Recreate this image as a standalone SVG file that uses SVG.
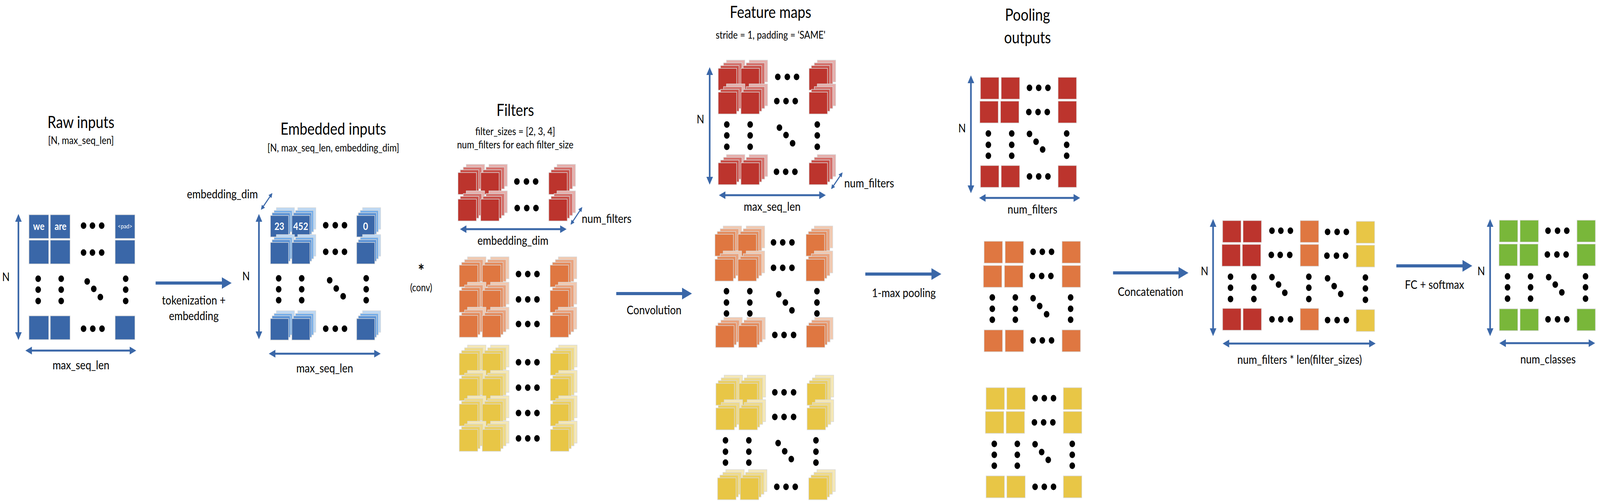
<svg xmlns="http://www.w3.org/2000/svg" xmlns:xlink="http://www.w3.org/1999/xlink" width="4863" height="1291" viewBox="0 0 4863 1291" preserveAspectRatio="none">
<style>
svg{width:100vw;height:100vh}
text{font-family:Lato,"Liberation Sans",sans-serif;fill:#000;text-anchor:middle}
.t{font-size:42px}
.s{font-size:27px}
.l{font-size:31px}
.n{font-size:30px}
.w{fill:#fff;font-weight:700;font-size:26px}
.c{stroke:#d9d9d9;stroke-width:1.5}
.d{fill:#000}
.dim{stroke:#3a67a8;stroke-width:5;fill:none;marker-start:url(#ah);marker-end:url(#ah)}
.sm{stroke:#3a67a8;stroke-width:3;fill:none;marker-start:url(#sh);marker-end:url(#sh)}
.big{stroke:#3a67a8;stroke-width:8;fill:none;marker-end:url(#bh)}
.bl{fill:#3a67a8}.rd{fill:#bc342d}.or{fill:#df7741}.ye{fill:#e8c646}.gr{fill:#79b73a}
</style>
<defs>
<marker id="ah" viewBox="0 0 20 20" refX="2" refY="10" markerWidth="20" markerHeight="20" markerUnits="userSpaceOnUse" orient="auto-start-reverse"><path d="M0,0 L20,10 L0,20 z" fill="#3a67a8"/></marker>
<marker id="sh" viewBox="0 0 12 12" refX="1" refY="6" markerWidth="12" markerHeight="12" markerUnits="userSpaceOnUse" orient="auto-start-reverse"><path d="M0,0 L12,6 L0,12 z" fill="#3a67a8"/></marker>
<marker id="bh" viewBox="0 0 30 30" refX="2" refY="15" markerWidth="30" markerHeight="30" markerUnits="userSpaceOnUse" orient="auto"><path d="M0,0 L30,15 L0,30 z" fill="#3a67a8"/></marker>
<g id="sB"><rect class="c" x="18" y="-20" width="55" height="55" fill="#bcd8f4"/><rect class="c" x="11" y="-13" width="55" height="55" fill="#76aee9"/><rect class="c" x="5" y="-7" width="55" height="55" fill="#5b93d6"/><rect class="c" x="0" y="0" width="55" height="55" fill="#3a67a8"/></g>
<g id="sR"><rect class="c" x="25" y="-21" width="56" height="56" fill="#e6aeab"/><rect class="c" x="16" y="-14" width="56" height="56" fill="#d4706b"/><rect class="c" x="7" y="-7" width="56" height="56" fill="#c94d46"/><rect class="c" x="0" y="0" width="56" height="56" fill="#bc342d"/></g>
<g id="sO"><rect class="c" x="25" y="-21" width="56" height="56" fill="#f2c9b0"/><rect class="c" x="16" y="-14" width="56" height="56" fill="#eaa37e"/><rect class="c" x="7" y="-7" width="56" height="56" fill="#e48b5c"/><rect class="c" x="0" y="0" width="56" height="56" fill="#df7741"/></g>
<g id="sY"><rect class="c" x="25" y="-21" width="56" height="56" fill="#f5e8b6"/><rect class="c" x="16" y="-14" width="56" height="56" fill="#efda88"/><rect class="c" x="7" y="-7" width="56" height="56" fill="#ebcf62"/><rect class="c" x="0" y="0" width="56" height="56" fill="#e8c646"/></g>
</defs>
<rect width="4863" height="1291" fill="#fff"/>

<g id="raw-inputs">
<text class="t" x="246" y="328">Raw inputs</text>
<text class="s" x="246" y="369">[N, max_seq_len]</text>
<rect class="c bl" x="88" y="550" width="60" height="61"/><rect class="c bl" x="153" y="550" width="60" height="61"/><rect class="c bl" x="350" y="550" width="60" height="61"/>
<rect class="c bl" x="88" y="615" width="60" height="61"/><rect class="c bl" x="153" y="615" width="60" height="61"/><rect class="c bl" x="350" y="615" width="60" height="61"/>
<rect class="c bl" x="88" y="809" width="60" height="61"/><rect class="c bl" x="153" y="809" width="60" height="61"/><rect class="c bl" x="350" y="809" width="60" height="61"/>
<text class="w" x="118" y="589">we</text><text class="w" x="184" y="589">are</text><text x="380" y="585" style="fill:#fff;font-size:16px">&lt;pad&gt;</text>
<g class="d"><circle cx="254" cy="578" r="8.5"/><circle cx="281" cy="578" r="8.5"/><circle cx="309" cy="578" r="8.5"/>
<circle cx="254" cy="647" r="8.5"/><circle cx="281" cy="647" r="8.5"/><circle cx="309" cy="647" r="8.5"/>
<circle cx="116" cy="714" r="8.5"/><circle cx="116" cy="742" r="8.5"/><circle cx="116" cy="771" r="8.5"/>
<circle cx="186" cy="714" r="8.5"/><circle cx="186" cy="742" r="8.5"/><circle cx="186" cy="771" r="8.5"/>
<circle cx="382" cy="714" r="8.5"/><circle cx="382" cy="742" r="8.5"/><circle cx="382" cy="771" r="8.5"/>
<circle cx="265" cy="721" r="8.5"/><circle cx="285" cy="740" r="8.5"/><circle cx="305" cy="761" r="8.5"/>
<circle cx="254" cy="842" r="8.5"/><circle cx="282" cy="842" r="8.5"/><circle cx="310" cy="842" r="8.5"/></g>
<text class="n" x="18" y="720">N</text>
<text class="l" x="246" y="946">max_seq_len</text>
</g>

<g id="embedded-inputs">
<text class="t" x="1013" y="345">Embedded inputs</text>
<text class="s" x="1013" y="388">[N, max_seq_len, embedding_dim]</text>
<use xlink:href="#sB" x="822" y="552"/><use xlink:href="#sB" x="887" y="552"/><use xlink:href="#sB" x="1084" y="552"/>
<use xlink:href="#sB" x="822" y="621"/><use xlink:href="#sB" x="887" y="621"/><use xlink:href="#sB" x="1084" y="621"/>
<use xlink:href="#sB" x="822" y="816"/><use xlink:href="#sB" x="887" y="816"/><use xlink:href="#sB" x="1084" y="816"/>
<text class="w" x="849" y="589">23</text><text class="w" x="914" y="589">452</text><text class="w" x="1111" y="589">0</text>
<g class="d"><circle cx="990" cy="577" r="8.5"/><circle cx="1019" cy="577" r="8.5"/><circle cx="1047" cy="577" r="8.5"/>
<circle cx="990" cy="645" r="8.5"/><circle cx="1019" cy="645" r="8.5"/><circle cx="1047" cy="645" r="8.5"/>
<circle cx="847" cy="713" r="8.5"/><circle cx="847" cy="741" r="8.5"/><circle cx="847" cy="769" r="8.5"/>
<circle cx="917" cy="713" r="8.5"/><circle cx="917" cy="741" r="8.5"/><circle cx="917" cy="769" r="8.5"/>
<circle cx="1113" cy="713" r="8.5"/><circle cx="1113" cy="741" r="8.5"/><circle cx="1113" cy="769" r="8.5"/>
<circle cx="1002" cy="718" r="8.5"/><circle cx="1022" cy="739" r="8.5"/><circle cx="1043" cy="759" r="8.5"/>
<circle cx="990" cy="842" r="8.5"/><circle cx="1019" cy="842" r="8.5"/><circle cx="1047" cy="842" r="8.5"/></g>
<text class="n" x="748" y="718">N</text>
<text class="l" x="676" y="508">embedding_dim</text>
<text class="l" x="987" y="954">max_seq_len</text>
</g>

<g id="conv-op">
<text x="1280" y="710" style="font-size:46px;font-weight:700">*</text>
<text x="1280" y="746" style="font-size:26px">(conv)</text>
</g>

<g id="filters">
<text class="t" x="1566" y="297">Filters</text>
<text class="s" x="1566" y="346">filter_sizes = [2, 3, 4]</text>
<text class="s" x="1566" y="380">num_filters for each filter_size</text>
<use xlink:href="#sR" x="1392" y="442"/><use xlink:href="#sR" x="1461" y="442"/><use xlink:href="#sR" x="1668" y="442"/>
<use xlink:href="#sR" x="1392" y="510"/><use xlink:href="#sR" x="1461" y="510"/><use xlink:href="#sR" x="1668" y="510"/>
<use xlink:href="#sO" x="1396" y="679"/><use xlink:href="#sO" x="1466" y="679"/><use xlink:href="#sO" x="1672" y="679"/>
<use xlink:href="#sO" x="1396" y="744"/><use xlink:href="#sO" x="1466" y="744"/><use xlink:href="#sO" x="1672" y="744"/>
<use xlink:href="#sO" x="1396" y="808"/><use xlink:href="#sO" x="1466" y="808"/><use xlink:href="#sO" x="1672" y="808"/>
<use xlink:href="#sY" x="1396" y="905"/><use xlink:href="#sY" x="1466" y="905"/><use xlink:href="#sY" x="1673" y="905"/>
<use xlink:href="#sY" x="1396" y="970"/><use xlink:href="#sY" x="1466" y="970"/><use xlink:href="#sY" x="1673" y="970"/>
<use xlink:href="#sY" x="1396" y="1035"/><use xlink:href="#sY" x="1466" y="1035"/><use xlink:href="#sY" x="1673" y="1035"/>
<use xlink:href="#sY" x="1396" y="1100"/><use xlink:href="#sY" x="1466" y="1100"/><use xlink:href="#sY" x="1673" y="1100"/>
<g class="d"><circle cx="1571" cy="465" r="8.5"/><circle cx="1600" cy="465" r="8.5"/><circle cx="1628" cy="465" r="8.5"/>
<circle cx="1572" cy="533" r="8.5"/><circle cx="1601" cy="533" r="8.5"/><circle cx="1629" cy="533" r="8.5"/>
<circle cx="1576" cy="702" r="8.5"/><circle cx="1604" cy="702" r="8.5"/><circle cx="1632" cy="702" r="8.5"/>
<circle cx="1576" cy="767" r="8.5"/><circle cx="1604" cy="767" r="8.5"/><circle cx="1632" cy="767" r="8.5"/>
<circle cx="1576" cy="830" r="8.5"/><circle cx="1604" cy="830" r="8.5"/><circle cx="1632" cy="830" r="8.5"/>
<circle cx="1576" cy="928" r="8.5"/><circle cx="1604" cy="928" r="8.5"/><circle cx="1632" cy="928" r="8.5"/>
<circle cx="1576" cy="993" r="8.5"/><circle cx="1604" cy="993" r="8.5"/><circle cx="1632" cy="993" r="8.5"/>
<circle cx="1576" cy="1058" r="8.5"/><circle cx="1604" cy="1058" r="8.5"/><circle cx="1632" cy="1058" r="8.5"/>
<circle cx="1576" cy="1123" r="8.5"/><circle cx="1604" cy="1123" r="8.5"/><circle cx="1632" cy="1123" r="8.5"/></g>
<text class="l" x="1559" y="627">embedding_dim</text>
<text class="l" x="1768" y="571" style="text-anchor:start">num_filters</text>
</g>

<g id="feature-maps">
<text class="t" x="2342" y="46">Feature maps</text>
<text class="s" x="2342" y="99">stride = 1, padding = ‘SAME'</text>
<use xlink:href="#sR" x="2183" y="175"/><use xlink:href="#sR" x="2252" y="175"/><use xlink:href="#sR" x="2459" y="175"/>
<use xlink:href="#sR" x="2183" y="236"/><use xlink:href="#sR" x="2252" y="236"/><use xlink:href="#sR" x="2459" y="236"/>
<use xlink:href="#sR" x="2183" y="417"/><use xlink:href="#sR" x="2252" y="417"/><use xlink:href="#sR" x="2459" y="417"/>
<use xlink:href="#sO" x="2173" y="600"/><use xlink:href="#sO" x="2243" y="600"/><use xlink:href="#sO" x="2450" y="600"/>
<use xlink:href="#sO" x="2173" y="664"/><use xlink:href="#sO" x="2243" y="664"/><use xlink:href="#sO" x="2450" y="664"/>
<use xlink:href="#sO" x="2175" y="834"/><use xlink:href="#sO" x="2245" y="834"/><use xlink:href="#sO" x="2451" y="834"/>
<use xlink:href="#sY" x="2176" y="982"/><use xlink:href="#sY" x="2246" y="982"/><use xlink:href="#sY" x="2453" y="982"/>
<use xlink:href="#sY" x="2176" y="1045"/><use xlink:href="#sY" x="2246" y="1045"/><use xlink:href="#sY" x="2453" y="1045"/>
<use xlink:href="#sY" x="2181" y="1224"/><use xlink:href="#sY" x="2250" y="1224"/><use xlink:href="#sY" x="2458" y="1224"/>
<g class="d"><circle cx="2364" cy="197" r="8.5"/><circle cx="2393" cy="197" r="8.5"/><circle cx="2421" cy="197" r="8.5"/>
<circle cx="2361" cy="259" r="8.5"/><circle cx="2389" cy="259" r="8.5"/><circle cx="2417" cy="259" r="8.5"/>
<circle cx="2209" cy="319" r="8.5"/><circle cx="2209" cy="347" r="8.5"/><circle cx="2209" cy="376" r="8.5"/>
<circle cx="2280" cy="319" r="8.5"/><circle cx="2280" cy="347" r="8.5"/><circle cx="2280" cy="376" r="8.5"/>
<circle cx="2484" cy="319" r="8.5"/><circle cx="2484" cy="347" r="8.5"/><circle cx="2484" cy="376" r="8.5"/>
<circle cx="2369" cy="327" r="8.5"/><circle cx="2389" cy="346" r="8.5"/><circle cx="2409" cy="367" r="8.5"/>
<circle cx="2360" cy="440" r="8.5"/><circle cx="2388" cy="440" r="8.5"/><circle cx="2416" cy="440" r="8.5"/>
<circle cx="2351" cy="621" r="8.5"/><circle cx="2379" cy="621" r="8.5"/><circle cx="2407" cy="621" r="8.5"/>
<circle cx="2351" cy="686" r="8.5"/><circle cx="2379" cy="686" r="8.5"/><circle cx="2407" cy="686" r="8.5"/>
<circle cx="2208" cy="746" r="8.5"/><circle cx="2208" cy="775" r="8.5"/><circle cx="2208" cy="803" r="8.5"/>
<circle cx="2279" cy="746" r="8.5"/><circle cx="2279" cy="775" r="8.5"/><circle cx="2279" cy="803" r="8.5"/>
<circle cx="2483" cy="746" r="8.5"/><circle cx="2483" cy="775" r="8.5"/><circle cx="2483" cy="803" r="8.5"/>
<circle cx="2367" cy="754" r="8.5"/><circle cx="2387" cy="775" r="8.5"/><circle cx="2407" cy="795" r="8.5"/>
<circle cx="2355" cy="858" r="8.5"/><circle cx="2383" cy="858" r="8.5"/><circle cx="2412" cy="858" r="8.5"/>
<circle cx="2355" cy="1005" r="8.5"/><circle cx="2383" cy="1005" r="8.5"/><circle cx="2412" cy="1005" r="8.5"/>
<circle cx="2355" cy="1068" r="8.5"/><circle cx="2383" cy="1068" r="8.5"/><circle cx="2412" cy="1068" r="8.5"/>
<circle cx="2205" cy="1128" r="8.5"/><circle cx="2205" cy="1157" r="8.5"/><circle cx="2205" cy="1185" r="8.5"/>
<circle cx="2276" cy="1128" r="8.5"/><circle cx="2276" cy="1157" r="8.5"/><circle cx="2276" cy="1185" r="8.5"/>
<circle cx="2480" cy="1128" r="8.5"/><circle cx="2480" cy="1157" r="8.5"/><circle cx="2480" cy="1185" r="8.5"/>
<circle cx="2365" cy="1135" r="8.5"/><circle cx="2385" cy="1156" r="8.5"/><circle cx="2405" cy="1176" r="8.5"/>
<circle cx="2361" cy="1247" r="8.5"/><circle cx="2389" cy="1247" r="8.5"/><circle cx="2417" cy="1247" r="8.5"/></g>
<text class="n" x="2129" y="316">N</text>
<text class="l" x="2347" y="540">max_seq_len</text>
<text class="l" x="2566" y="480" style="text-anchor:start">num_filters</text>
</g>

<g id="pooling-outputs">
<text class="t" x="3123" y="53">Pooling</text>
<text class="t" x="3123" y="111">outputs</text>
<g class="c rd"><rect x="2980" y="198" width="56" height="56"/><rect x="3043" y="198" width="56" height="56"/><rect x="3216" y="198" width="56" height="56"/>
<rect x="2978" y="259" width="56" height="56"/><rect x="3041" y="259" width="56" height="56"/><rect x="3216" y="259" width="56" height="56"/>
<rect x="2980" y="424" width="56" height="56"/><rect x="3043" y="424" width="56" height="56"/><rect x="3216" y="424" width="56" height="56"/></g>
<g class="c or"><rect x="2991" y="618" width="56" height="56"/><rect x="3055" y="618" width="56" height="56"/><rect x="3228" y="618" width="56" height="56"/>
<rect x="2989" y="680" width="56" height="56"/><rect x="3053" y="680" width="56" height="56"/><rect x="3228" y="680" width="56" height="56"/>
<rect x="2991" y="845" width="56" height="56"/><rect x="3055" y="845" width="56" height="56"/><rect x="3228" y="845" width="56" height="56"/></g>
<g class="c ye"><rect x="2997" y="993" width="56" height="56"/><rect x="3060" y="993" width="56" height="56"/><rect x="3232" y="993" width="56" height="56"/>
<rect x="2995" y="1054" width="56" height="56"/><rect x="3058" y="1054" width="56" height="56"/><rect x="3232" y="1054" width="56" height="56"/>
<rect x="2997" y="1219" width="56" height="56"/><rect x="3060" y="1219" width="56" height="56"/><rect x="3232" y="1219" width="56" height="56"/></g>
<g class="d"><circle cx="3129" cy="225" r="8.5"/><circle cx="3157" cy="225" r="8.5"/><circle cx="3185" cy="225" r="8.5"/>
<circle cx="3127" cy="287" r="8.5"/><circle cx="3155" cy="287" r="8.5"/><circle cx="3183" cy="287" r="8.5"/>
<circle cx="3004" cy="342" r="8.5"/><circle cx="3004" cy="371" r="8.5"/><circle cx="3004" cy="399" r="8.5"/>
<circle cx="3075" cy="342" r="8.5"/><circle cx="3075" cy="371" r="8.5"/><circle cx="3075" cy="399" r="8.5"/>
<circle cx="3242" cy="342" r="8.5"/><circle cx="3242" cy="371" r="8.5"/><circle cx="3242" cy="399" r="8.5"/>
<circle cx="3129" cy="343" r="8.5"/><circle cx="3149" cy="363" r="8.5"/><circle cx="3169" cy="383" r="8.5"/>
<circle cx="3129" cy="452" r="8.5"/><circle cx="3157" cy="452" r="8.5"/><circle cx="3185" cy="452" r="8.5"/>
<circle cx="3140" cy="645" r="8.5"/><circle cx="3168" cy="645" r="8.5"/><circle cx="3196" cy="645" r="8.5"/>
<circle cx="3138" cy="707" r="8.5"/><circle cx="3166" cy="707" r="8.5"/><circle cx="3194" cy="707" r="8.5"/>
<circle cx="3016" cy="762" r="8.5"/><circle cx="3016" cy="791" r="8.5"/><circle cx="3016" cy="819" r="8.5"/>
<circle cx="3086" cy="762" r="8.5"/><circle cx="3086" cy="791" r="8.5"/><circle cx="3086" cy="819" r="8.5"/>
<circle cx="3254" cy="762" r="8.5"/><circle cx="3254" cy="791" r="8.5"/><circle cx="3254" cy="819" r="8.5"/>
<circle cx="3140" cy="764" r="8.5"/><circle cx="3160" cy="784" r="8.5"/><circle cx="3181" cy="805" r="8.5"/>
<circle cx="3140" cy="872" r="8.5"/><circle cx="3168" cy="872" r="8.5"/><circle cx="3196" cy="872" r="8.5"/>
<circle cx="3146" cy="1020" r="8.5"/><circle cx="3174" cy="1020" r="8.5"/><circle cx="3202" cy="1020" r="8.5"/>
<circle cx="3144" cy="1082" r="8.5"/><circle cx="3172" cy="1082" r="8.5"/><circle cx="3200" cy="1082" r="8.5"/>
<circle cx="3022" cy="1137" r="8.5"/><circle cx="3022" cy="1165" r="8.5"/><circle cx="3022" cy="1193" r="8.5"/>
<circle cx="3092" cy="1137" r="8.5"/><circle cx="3092" cy="1165" r="8.5"/><circle cx="3092" cy="1193" r="8.5"/>
<circle cx="3259" cy="1137" r="8.5"/><circle cx="3259" cy="1165" r="8.5"/><circle cx="3259" cy="1193" r="8.5"/>
<circle cx="3146" cy="1138" r="8.5"/><circle cx="3166" cy="1158" r="8.5"/><circle cx="3186" cy="1178" r="8.5"/>
<circle cx="3146" cy="1247" r="8.5"/><circle cx="3174" cy="1247" r="8.5"/><circle cx="3202" cy="1247" r="8.5"/></g>
<text class="n" x="2924" y="339">N</text>
<text class="l" x="3138" y="547">num_filters</text>
</g>

<g id="concatenated">
<g class="c rd"><rect x="3716" y="565" width="56" height="56"/><rect x="3778" y="565" width="56" height="56"/>
<rect x="3714" y="626" width="56" height="56"/><rect x="3776" y="626" width="56" height="56"/>
<rect x="3716" y="790" width="56" height="56"/><rect x="3778" y="790" width="56" height="56"/></g>
<g class="c or"><rect x="3952" y="565" width="56" height="56"/><rect x="3952" y="626" width="56" height="56"/><rect x="3952" y="790" width="56" height="56"/></g>
<g class="c ye"><rect x="4122" y="567" width="56" height="56"/><rect x="4122" y="628" width="56" height="56"/><rect x="4122" y="793" width="56" height="56"/></g>
<g class="d"><circle cx="3866" cy="591" r="8.5"/><circle cx="3893" cy="591" r="8.5"/><circle cx="3922" cy="591" r="8.5"/>
<circle cx="3864" cy="653" r="8.5"/><circle cx="3891" cy="653" r="8.5"/><circle cx="3920" cy="653" r="8.5"/>
<circle cx="3740" cy="709" r="8.5"/><circle cx="3740" cy="737" r="8.5"/><circle cx="3740" cy="766" r="8.5"/>
<circle cx="3811" cy="709" r="8.5"/><circle cx="3811" cy="737" r="8.5"/><circle cx="3811" cy="766" r="8.5"/>
<circle cx="3978" cy="709" r="8.5"/><circle cx="3978" cy="737" r="8.5"/><circle cx="3978" cy="766" r="8.5"/>
<circle cx="4150" cy="711" r="8.5"/><circle cx="4150" cy="739" r="8.5"/><circle cx="4150" cy="768" r="8.5"/>
<circle cx="3866" cy="710" r="8.5"/><circle cx="3886" cy="729" r="8.5"/><circle cx="3905" cy="750" r="8.5"/>
<circle cx="3866" cy="818" r="8.5"/><circle cx="3893" cy="818" r="8.5"/><circle cx="3922" cy="818" r="8.5"/>
<circle cx="4035" cy="594" r="8.5"/><circle cx="4064" cy="594" r="8.5"/><circle cx="4092" cy="594" r="8.5"/>
<circle cx="4033" cy="655" r="8.5"/><circle cx="4062" cy="655" r="8.5"/><circle cx="4090" cy="655" r="8.5"/>
<circle cx="4035" cy="713" r="8.5"/><circle cx="4055" cy="733" r="8.5"/><circle cx="4075" cy="753" r="8.5"/>
<circle cx="4035" cy="820" r="8.5"/><circle cx="4064" cy="820" r="8.5"/><circle cx="4092" cy="820" r="8.5"/></g>
<text class="n" x="3661" y="705">N</text>
<text class="l" x="3950" y="932">num_filters * len(filter_sizes)</text>
</g>

<g id="outputs">
<g class="c gr"><rect x="4557" y="564" width="56" height="56"/><rect x="4620" y="564" width="56" height="56"/><rect x="4793" y="564" width="56" height="56"/>
<rect x="4556" y="625" width="56" height="56"/><rect x="4619" y="625" width="56" height="56"/><rect x="4793" y="625" width="56" height="56"/>
<rect x="4557" y="791" width="56" height="56"/><rect x="4620" y="791" width="56" height="56"/><rect x="4793" y="791" width="56" height="56"/></g>
<g class="d"><circle cx="4705" cy="591" r="8.5"/><circle cx="4734" cy="591" r="8.5"/><circle cx="4762" cy="591" r="8.5"/>
<circle cx="4703" cy="652" r="8.5"/><circle cx="4732" cy="652" r="8.5"/><circle cx="4760" cy="652" r="8.5"/>
<circle cx="4582" cy="708" r="8.5"/><circle cx="4582" cy="736" r="8.5"/><circle cx="4582" cy="765" r="8.5"/>
<circle cx="4652" cy="708" r="8.5"/><circle cx="4652" cy="736" r="8.5"/><circle cx="4652" cy="765" r="8.5"/>
<circle cx="4819" cy="708" r="8.5"/><circle cx="4819" cy="736" r="8.5"/><circle cx="4819" cy="765" r="8.5"/>
<circle cx="4707" cy="710" r="8.5"/><circle cx="4727" cy="729" r="8.5"/><circle cx="4747" cy="749" r="8.5"/>
<circle cx="4705" cy="818" r="8.5"/><circle cx="4734" cy="818" r="8.5"/><circle cx="4762" cy="818" r="8.5"/></g>
<text class="n" x="4502" y="705">N</text>
<text class="l" x="4705" y="931">num_classes</text>
</g>

<g id="connectors">
<line class="dim" x1="56" y1="566" x2="56" y2="853"/>
<line class="dim" x1="95" y1="898" x2="396" y2="898"/>
<line class="dim" x1="787" y1="566" x2="787" y2="851"/>
<line class="dim" x1="835" y1="906" x2="1139" y2="906"/>
<line class="sm" x1="800" y1="529" x2="821" y2="503"/>
<line class="dim" x1="1416" y1="587" x2="1704" y2="587"/>
<line class="sm" x1="1741" y1="567" x2="1763" y2="539"/>
<line class="dim" x1="2157" y1="190" x2="2157" y2="455"/>
<line class="dim" x1="2203" y1="500" x2="2492" y2="500"/>
<line class="sm" x1="2533" y1="476" x2="2554" y2="450"/>
<line class="dim" x1="2951" y1="211" x2="2951" y2="477"/>
<line class="dim" x1="2994" y1="507" x2="3265" y2="507"/>
<line class="dim" x1="3687" y1="579" x2="3687" y2="843"/>
<line class="dim" x1="3734" y1="880" x2="4163" y2="880"/>
<line class="dim" x1="4529" y1="579" x2="4529" y2="843"/>
<line class="dim" x1="4575" y1="879" x2="4830" y2="879"/>
<line class="big" x1="473" y1="725" x2="676" y2="725"/>
<line class="big" x1="1873" y1="752" x2="2075" y2="752"/>
<line class="big" x1="2630" y1="702" x2="2833" y2="702"/>
<line class="big" x1="3383" y1="699" x2="3584" y2="699"/>
<line class="big" x1="4244" y1="681" x2="4447" y2="681"/>
<text class="l" x="589" y="780">tokenization +</text>
<text class="l" x="589" y="820">embedding</text>
<text class="l" x="1988" y="805">Convolution</text>
<text class="l" x="2747" y="761">1-max pooling</text>
<text class="l" x="3497" y="758">Concatenation</text>
<text class="l" x="4360" y="740">FC + softmax</text>
</g>
</svg>
